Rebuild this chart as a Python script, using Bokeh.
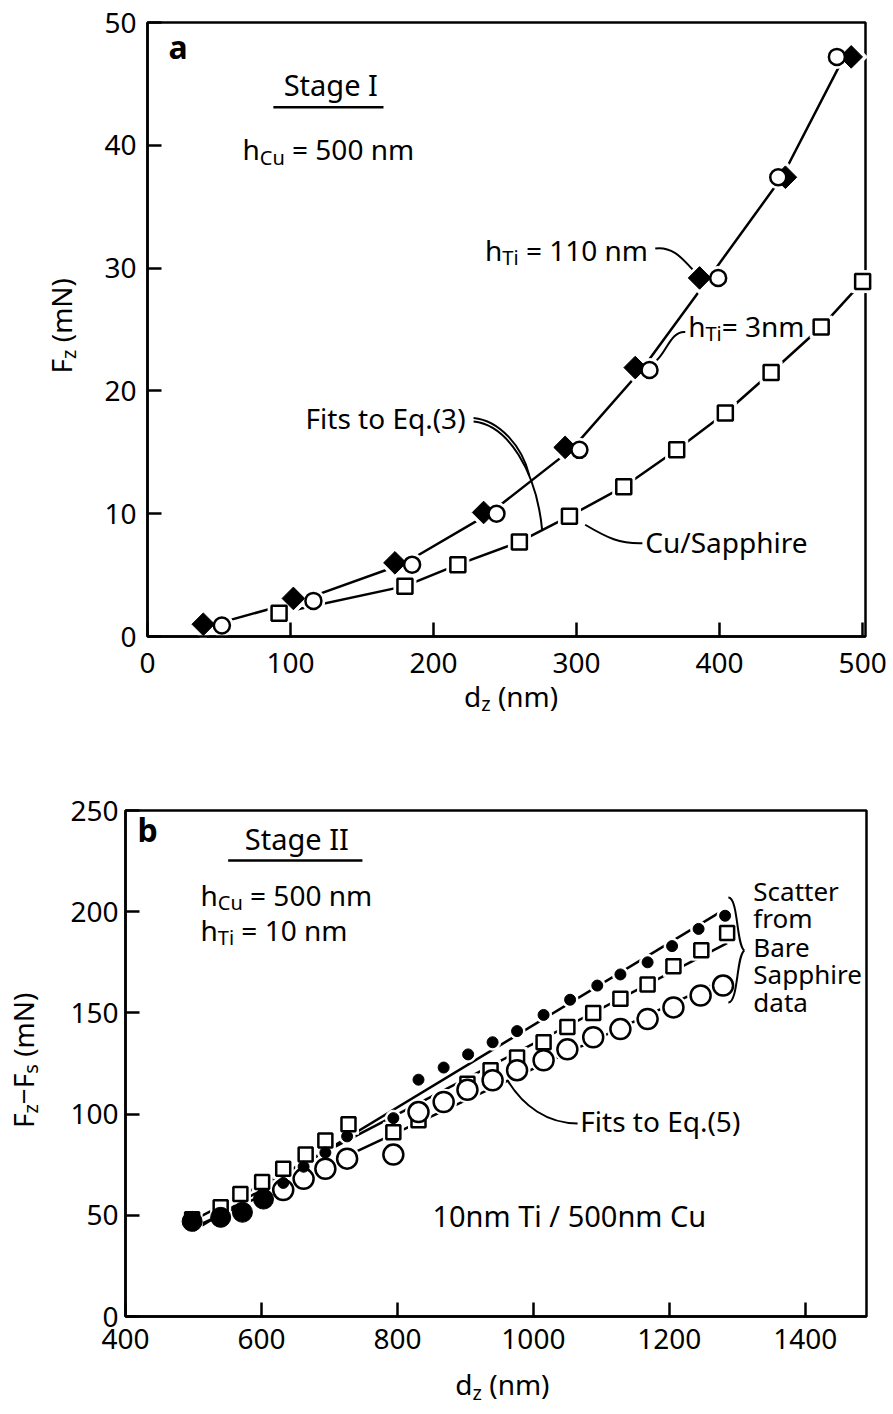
import numpy as np
from bokeh.plotting import figure
from bokeh.models import Label
from bokeh.layouts import column
from bokeh.embed import file_html
from bokeh.resources import INLINE

# ---------------- data: panel a (Stage I) ----------------
a_ti110_dz = [39, 102, 173, 235, 292, 341, 386, 446, 492]
a_ti110_fz = [1.0, 3.1, 6.0, 10.1, 15.4, 21.9, 29.2, 37.4, 47.2]
a_ti3_dz = [52, 116, 185, 244, 302, 351, 399, 441, 482]
a_ti3_fz = [0.9, 2.9, 5.85, 10.0, 15.2, 21.7, 29.2, 37.4, 47.2]
a_cu_dz = [92, 180, 217, 260, 295, 333, 370, 404, 436, 471, 500]
a_cu_fz = [1.9, 4.1, 5.85, 7.7, 9.8, 12.2, 15.2, 18.2, 21.5, 25.2, 28.9]
a_xticks = [0, 100, 200, 300, 400, 500]
a_yticks = [0, 10, 20, 30, 40, 50]

# ---------------- data: panel b (Stage II) ----------------
b_dot_dz = [498, 540, 572, 603, 632, 662, 694, 726, 794, 831, 868, 904, 940,
            976, 1015, 1054, 1094, 1128, 1168, 1204, 1243, 1282]
b_dot_fz = [47, 49, 51.5, 58, 66, 74, 81, 89, 98, 117, 123, 129.5, 135.5,
            141, 149, 156.5, 163.5, 169, 175, 183, 191.5, 198]
b_sq_dz = [498, 540, 569, 601, 632, 665, 694, 728, 794, 831, 868, 903, 937,
           976, 1015, 1050, 1088, 1128, 1168, 1206, 1247, 1285]
b_sq_fz = [48, 54, 60.5, 66.5, 73, 80, 87, 95, 91, 97, 106, 115, 121.7,
           128, 135.5, 143, 150, 157, 164, 173, 181, 189.5]
b_ci_dz = [632, 662, 694, 726, 794, 831, 868, 903, 940, 976, 1015, 1050,
           1088, 1128, 1168, 1206, 1246, 1279]
b_ci_fz = [62.5, 68, 73, 78, 80, 101, 106, 112, 116.7, 121.7, 126.6, 132,
           138, 142, 147, 152.7, 158.6, 163.5]
b_xticks = [400, 600, 800, 1000, 1200, 1400]
b_yticks = [0, 50, 100, 150, 200, 250]

FONT = "Noto Sans"
TICK_FS = "28px"
TEXT_DY = -1  # px: visual centring of "middle" baseline

CW = {' ': 0.26, '(': 0.296, ')': 0.296, '.': 0.268, '/': 0.372, '=': 0.572,
      '\u2212': 0.572, '-': 0.322, 'C': 0.632, 'E': 0.556, 'F': 0.517,
      'I': 0.326, 'N': 0.754, 'S': 0.549, 'T': 0.556, 'B': 0.648,
      'a': 0.561, 'b': 0.615, 'c': 0.48, 'd': 0.615, 'e': 0.564, 'f': 0.344,
      'g': 0.615, 'h': 0.618, 'i': 0.258, 'm': 0.941, 'n': 0.618, 'o': 0.605,
      'p': 0.615, 'q': 0.615, 'r': 0.411, 's': 0.479, 't': 0.361, 'u': 0.618,
      'z': 0.47}

SCALES = {}


def text_width(s, fs):
    return sum(CW.get(c, 0.572) for c in s) * fs


def rich(p, x, y, parts, fs, angle=0.0, align="left", bold=False):
    """Place text made of normal / subscript pieces at data position (x, y)."""
    sx, sy = SCALES[p.id]
    sub_fs = round(fs * 0.7)
    widths = [text_width(t, sub_fs if sub else fs) for t, sub in parts]
    pos = -sum(widths) / 2 if align == "center" else 0.0
    for (t, sub), w in zip(parts, widths):
        f = sub_fs if sub else fs
        shift = fs * 0.28 if sub else 0.0
        lead = (len(t) - len(t.lstrip(" "))) * CW[' '] * f   # SVG drops leading blanks
        q = pos + lead
        if angle == 0:
            lx, ly = x + q / sx, y - (shift + TEXT_DY) / sy
        else:
            lx, ly = x + (shift + TEXT_DY) / sx, y + q / sy
        p.add_layout(Label(x=lx, y=ly, text=t.lstrip(" "), text_font=FONT,
                           text_font_size=f"{f}px", text_align="left",
                           text_baseline="middle", angle=angle,
                           text_color="black",
                           text_font_style="bold" if bold else "normal"))
        pos += w


def panel(fig_w, fig_h, box, xlim, ylim, xticks, yticks, x_standoff, y_standoff):
    """Figure whose frame fills the canvas; the axes sit at the box edges."""
    left, top, right, bottom = box
    sx = (right - left) / (xlim[1] - xlim[0])
    sy = (bottom - top) / (ylim[1] - ylim[0])
    xr = (xlim[0] - left / sx, xlim[0] + (fig_w - left) / sx)
    yr = (ylim[0] - (fig_h - bottom) / sy, ylim[1] + top / sy)
    p = figure(width=fig_w, height=fig_h, x_range=xr, y_range=yr, min_border=0,
               output_backend="svg", toolbar_location=None)
    SCALES[p.id] = (sx, sy)
    p.xgrid.visible = False
    p.ygrid.visible = False
    p.outline_line_color = None
    p.background_fill_color = "white"
    p.border_fill_color = "white"
    p.quad(left=[xlim[0]], right=[xlim[1]], bottom=[ylim[0]], top=[ylim[1]],
           fill_alpha=0, line_color="black", line_width=2.5)
    p.xaxis.fixed_location = ylim[0]
    p.yaxis.fixed_location = xlim[0]
    p.xaxis.bounds = xlim
    p.yaxis.bounds = ylim
    p.xaxis.ticker = xticks
    p.yaxis.ticker = yticks
    for ax in (p.xaxis, p.yaxis):
        ax.axis_line_width = 2.5
        ax.axis_line_color = "black"
        ax.major_tick_in = 14
        ax.major_tick_out = 0
        ax.major_tick_line_width = 2.5
        ax.minor_tick_line_color = None
        ax.major_label_text_font = FONT
        ax.major_label_text_font_size = TICK_FS
        ax.major_label_text_color = "black"
    p.xaxis.major_label_standoff = x_standoff
    p.yaxis.major_label_standoff = y_standoff
    return p


# ================= panel a =================
pa = panel(893, 752, (147, 22, 865, 636), (0, 502), (0, 50),
           a_xticks, a_yticks, 16, 11)

up_x = (np.array(a_ti110_dz) + np.array(a_ti3_dz)) / 2
up_y = (np.array(a_ti110_fz) + np.array(a_ti3_fz)) / 2
pa.line(up_x, up_y, line_color="black", line_width=2.5)
pa.line(a_cu_dz, a_cu_fz, line_color="black", line_width=2.5)

# white halos give the gaps of the curves at each marker
pa.scatter(a_ti110_dz, a_ti110_fz, marker="square", angle=np.pi / 4, size=23,
           fill_color="white", line_color="white")
pa.scatter(a_ti3_dz, a_ti3_fz, marker="circle", size=23, fill_color="white",
           line_color="white")
pa.scatter(a_cu_dz, a_cu_fz, marker="square", size=22, fill_color="white",
           line_color="white")

pa.scatter(a_ti110_dz, a_ti110_fz, marker="square", angle=np.pi / 4, size=16,
           fill_color="black", line_color="black", line_width=1)
pa.scatter(a_ti3_dz, a_ti3_fz, marker="circle", size=16, fill_color="white",
           line_color="black", line_width=2.5)
pa.scatter(a_cu_dz, a_cu_fz, marker="square", size=15, fill_color="white",
           line_color="black", line_width=2.5)

rich(pa, 21, 48.0, [("a", 0)], 32, align="center", bold=True)
rich(pa, 128, 44.9, [("Stage I", 0)], 29, align="center")
pa.segment(x0=[88], y0=[43.1], x1=[165], y1=[43.1], line_color="black", line_width=2.5)
rich(pa, 66.4, 39.6, [("h", 0), ("Cu", 1), (" = 500 nm", 0)], 28)
rich(pa, 236, 31.4, [("h", 0), ("Ti", 1), (" = 110 nm", 0)], 28)
pa.bezier(x0=[355], y0=[31.6], x1=[381], y1=[29.9], cx0=[368], cy0=[31.8],
          cx1=[375], cy1=[30.6], line_color="black", line_width=2)
rich(pa, 378, 25.2, [("h", 0), ("Ti", 1), ("= 3nm", 0)], 28)
pa.bezier(x0=[376], y0=[24.8], x1=[356], y1=[22.5], cx0=[366], cy0=[24.9],
          cx1=[363], cy1=[23.2], line_color="black", line_width=2)
rich(pa, 110.5, 17.7, [("Fits to Eq.(3)", 0)], 28)
pa.bezier(x0=[228], y0=[17.8], x1=[267], y1=[13.1], cx0=[246], cy0=[17.6],
          cx1=[262], cy1=[15.5], line_color="black", line_width=2)
pa.bezier(x0=[228], y0=[17.5], x1=[276], y1=[8.6], cx0=[252], cy0=[17.2],
          cx1=[272], cy1=[13.5], line_color="black", line_width=2)
rich(pa, 348, 7.6, [("Cu/Sapphire", 0)], 28)
pa.bezier(x0=[306], y0=[9.1], x1=[346], y1=[7.6], cx0=[322], cy0=[8.0],
          cx1=[330], cy1=[7.55], line_color="black", line_width=2)

# axis titles
rich(pa, 254.2, -4.9, [("d", 0), ("z", 1), (" (nm)", 0)], 28, align="center")
rich(pa, -60.0, 25.3, [("F", 0), ("z", 1), (" (mN)", 0)], 28,
     angle=np.pi / 2, align="center")

# ================= panel b =================
pb = panel(893, 662, (125, 58, 866, 564), (400, 1490), (0, 250),
           b_xticks, b_yticks, 12, 7)

for xs, ys in ((b_dot_dz, b_dot_fz), (b_sq_dz, b_sq_fz), (b_ci_dz, b_ci_fz)):
    coef = np.polyfit(xs, ys, 1)
    fx = np.array([500, max(xs)])
    pb.line(fx, np.polyval(coef, fx), line_color="black", line_width=2.5)

pb.scatter(b_dot_dz[4:], b_dot_fz[4:], marker="circle", size=16, fill_color="white",
           line_color="white")
pb.scatter(b_sq_dz, b_sq_fz, marker="square", size=20, fill_color="white",
           line_color="white")
pb.scatter(b_ci_dz, b_ci_fz, marker="circle", size=26, fill_color="white",
           line_color="white")

pb.scatter(b_sq_dz, b_sq_fz, marker="square", size=14, fill_color="white",
           line_color="black", line_width=2.5)
pb.scatter(b_ci_dz, b_ci_fz, marker="circle", size=20, fill_color="white",
           line_color="black", line_width=2.5)
pb.scatter(b_dot_dz[4:], b_dot_fz[4:], marker="circle", size=11, fill_color="black",
           line_color="black")
pb.scatter(b_dot_dz[:4], b_dot_fz[:4], marker="circle", size=20, fill_color="black",
           line_color="black")

rich(pb, 432, 240, [("b", 0)], 32, align="center", bold=True)
rich(pb, 651.5, 235.5, [("Stage II", 0)], 29, align="center")
pb.segment(x0=[551], y0=[225.3], x1=[748.5], y1=[225.3], line_color="black", line_width=2.5)
rich(pb, 510.3, 208, [("h", 0), ("Cu", 1), (" = 500 nm", 0)], 28)
rich(pb, 510.3, 190.7, [("h", 0), ("Ti", 1), (" = 10 nm", 0)], 28)
for txt, yy in (("Scatter", 209.5), ("from", 196.2), ("Bare", 182.3),
                ("Sapphire", 168.5), ("data", 155.1)):
    rich(pb, 1323.5, yy, [(txt, 0)], 26)
pb.bezier(x0=[1286.8], y0=[207], x1=[1310.3], y1=[180.8], cx0=[1301.5], cy0=[207],
          cx1=[1298.5], cy1=[183.3], line_color="black", line_width=2)
pb.bezier(x0=[1310.3], y0=[180.8], x1=[1286.8], y1=[155.1], cx0=[1298.5], cy0=[178.4],
          cx1=[1301.5], cy1=[155.1], line_color="black", line_width=2)
rich(pb, 1069, 95.9, [("Fits to Eq.(5)", 0)], 28)
pb.bezier(x0=[962], y0=[116.6], x1=[1065], y1=[95.4], cx0=[985], cy0=[104],
          cx1=[1020], cy1=[95.4], line_color="black", line_width=2)
rich(pb, 851.5, 49.4, [("10nm Ti / 500nm Cu", 0)], 29)

rich(pb, 954.4, -34.0, [("d", 0), ("z", 1), (" (nm)", 0)], 28, align="center")
rich(pb, 250, 126.5, [("F", 0), ("z", 1), ("\u2212F", 0), ("s", 1), (" (mN)", 0)],
     28, angle=np.pi / 2, align="center")

layout = column(pa, pb, spacing=0)
open("out.html", "w").write(file_html(layout, INLINE))
